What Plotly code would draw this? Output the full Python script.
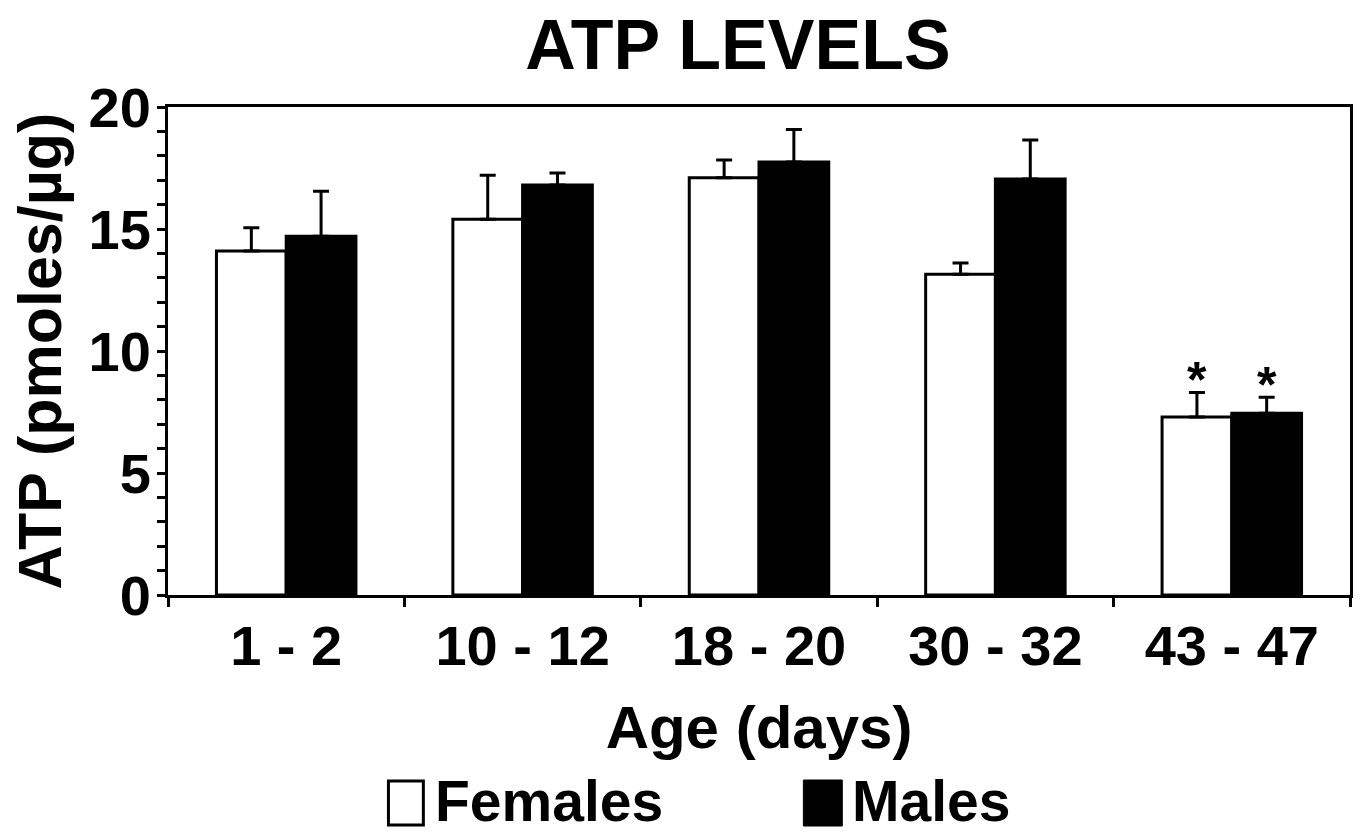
import plotly.graph_objects as go

categories = ['1 - 2', '10 - 12', '18 - 20', '30 - 32', '43 - 47']
females = [14.1, 15.4, 17.1, 13.15, 7.3]
females_err = [0.95, 1.8, 0.73, 0.46, 1.0]
males = [14.7, 16.8, 17.75, 17.05, 7.45]
males_err = [1.85, 0.5, 1.33, 1.6, 0.65]
females_sig = ['', '', '', '', '*']
males_sig = ['', '', '', '', '*']

FONT = 'Liberation Sans, Arial, sans-serif'
W, H = 1363, 837
L, R, T, B = 168, 10, 107, 242
PW, PH = W - L - R, H - T - B


def px(x):
    return (x - L) / PW


def py(y):
    return (H - B - y) / PH


fig = go.Figure()
fig.add_trace(go.Bar(
    name='Females', x=categories, y=females,
    marker=dict(color='white', line=dict(color='black', width=3)),
    error_y=dict(type='data', symmetric=False, array=females_err,
                 arrayminus=[0] * len(females), color='black',
                 thickness=3, width=8),
))
fig.add_trace(go.Bar(
    name='Males', x=categories, y=males,
    marker=dict(color='black', line=dict(color='black', width=3)),
    error_y=dict(type='data', symmetric=False, array=males_err,
                 arrayminus=[0] * len(males), color='black',
                 thickness=3, width=8),
))

star_font = dict(size=50, family=FONT, color='black', weight='bold')
annotations = []
for cat, v, e, s in zip(categories, females, females_err, females_sig):
    if s:
        annotations.append(dict(x=cat, y=v + e, xref='x', yref='y', text=s,
                                showarrow=False, xshift=-35, yanchor='bottom', yshift=-18,
                                font=star_font))
for cat, v, e, s in zip(categories, males, males_err, males_sig):
    if s:
        annotations.append(dict(x=cat, y=v + e, xref='x', yref='y', text=s,
                                showarrow=False, xshift=35, yanchor='bottom', yshift=-18,
                                font=star_font))

# legend drawn by hand (keys as shapes, labels as text)
legend_font = dict(size=57, family=FONT, color='black', weight='bold')
annotations += [
    dict(x=px(434), y=py(801), xref='paper', yref='paper', text='Females', showarrow=False,
         xanchor='left', yanchor='middle', font=legend_font),
    dict(x=px(852), y=py(801), xref='paper', yref='paper', text='Males', showarrow=False,
         xanchor='left', yanchor='middle', font=legend_font),
]
shapes = [
    dict(type='rect', xref='paper', yref='paper', x0=px(389), x1=px(424), y0=py(825), y1=py(781),
         fillcolor='white', line=dict(color='black', width=3)),
    dict(type='rect', xref='paper', yref='paper', x0=px(805), x1=px(844), y0=py(826), y1=py(780),
         fillcolor='black', line=dict(color='black', width=1)),
]

fig.update_layout(
    width=W, height=H,
    margin=dict(l=L, r=R, t=T, b=B),
    paper_bgcolor='white', plot_bgcolor='white',
    barmode='group', bargap=0.41, bargroupgap=0,
    showlegend=False,
    font=dict(family=FONT, color='black', weight='bold'),
    title=dict(text='ATP LEVELS', x=738 / W, xref='container', xanchor='center',
               y=1 - 44 / H, yref='container', yanchor='middle',
               font=dict(size=70, family=FONT, color='black', weight='bold')),
    annotations=annotations,
    shapes=shapes,
)

fig.update_xaxes(
    showline=True, linecolor='black', linewidth=3, mirror=True,
    ticks='outside', tickson='boundaries', ticklen=9, tickwidth=3, tickcolor='black',
    tickfont=dict(size=56, family=FONT, color='black', weight='bold'),
    title=dict(text='Age (days)', font=dict(size=60, family=FONT, color='black', weight='bold'),
               standoff=30),
    showgrid=False,
)
fig.update_yaxes(
    range=[0, 20], showline=True, linecolor='black', linewidth=3, mirror=True,
    tickmode='linear', tick0=0, dtick=5,
    ticks='outside', ticklen=8, tickwidth=3, tickcolor='black',
    ticklabelstandoff=-5,
    minor=dict(dtick=1, ticks='outside', ticklen=8, tickwidth=3, tickcolor='black', showgrid=False),
    tickfont=dict(size=56, family=FONT, color='black', weight='bold'),
    title=dict(text='ATP (pmoles/µg)', font=dict(size=61, family=FONT, color='black', weight='bold'),
               standoff=8),
    showgrid=False, zeroline=False,
)

fig.write_html('out.html')
